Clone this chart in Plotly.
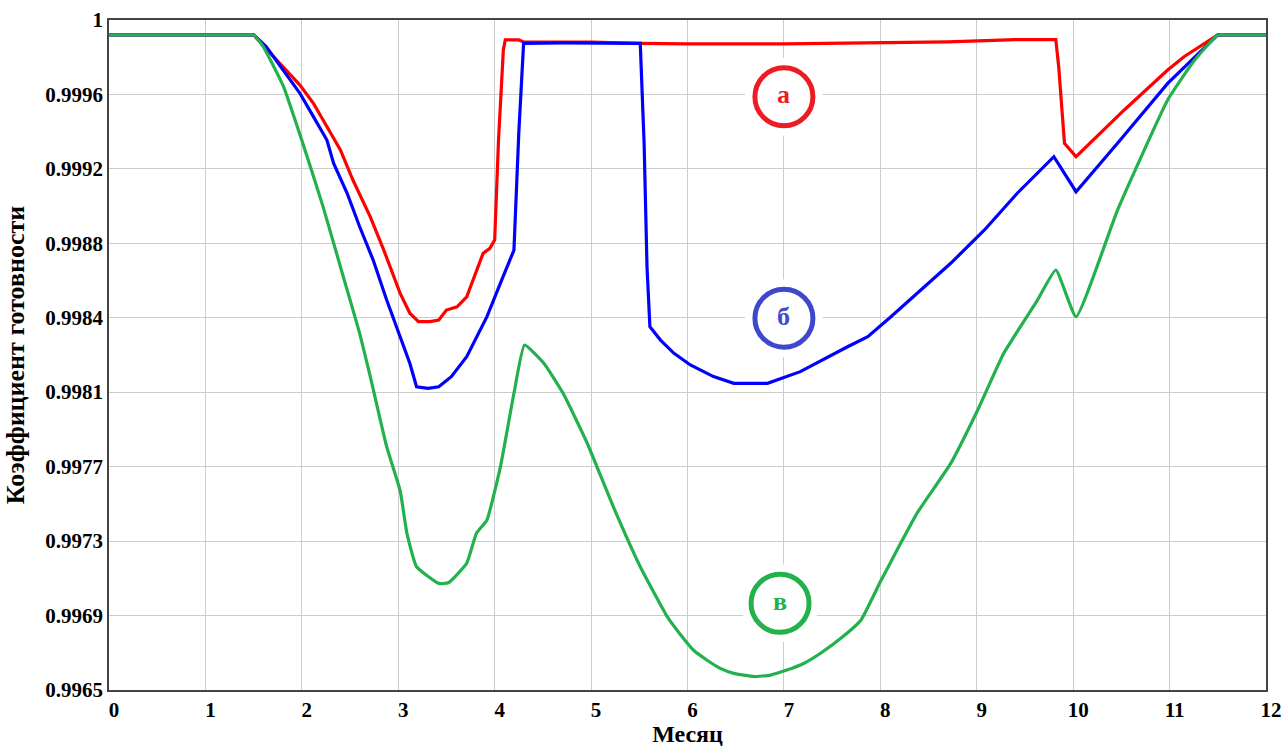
import plotly.graph_objects as go

# ---- data (month, availability coefficient) ----
red_x = [0, 1.5, 1.74, 1.98, 2.12, 2.26, 2.40, 2.53, 2.71, 2.85, 3.02, 3.12, 3.21, 3.33, 3.42, 3.50, 3.61, 3.71,
         3.80, 3.88, 3.95, 4.0, 4.04, 4.09, 4.11, 4.25, 4.30, 5.0, 5.5, 6.0, 7.0, 7.7, 8.7, 9.4, 9.82, 9.85, 9.91,
         10.03, 10.53, 10.98, 11.15, 11.5, 12]
red_y = [0.999922, 0.999922, 0.999791, 0.999660, 0.999565, 0.999443, 0.999321, 0.999164, 0.998972, 0.998798,
         0.998572, 0.998468, 0.998424, 0.998424, 0.998433, 0.998485, 0.998502, 0.998554, 0.998677, 0.998781,
         0.998807, 0.998851, 0.999373, 0.999843, 0.999896, 0.999896, 0.999885, 0.999885, 0.999878, 0.999875,
         0.999875, 0.999878, 0.999886, 0.999898, 0.999898, 0.999756, 0.999356, 0.999286, 0.999530, 0.999739,
         0.999808, 0.999922, 0.999922]

blue_x = [0, 1.5, 1.63, 1.81, 1.98, 2.12, 2.26, 2.33, 2.47, 2.60, 2.74, 2.88, 3.02, 3.12, 3.19, 3.31, 3.42, 3.55,
          3.71, 3.82, 3.92, 4.06, 4.20, 4.25, 4.30, 4.70, 5.51, 5.55, 5.58, 5.61, 5.72, 5.86, 6.03, 6.27, 6.48,
          6.83, 7.17, 7.66, 7.87, 8.11, 8.73, 9.08, 9.42, 9.80, 10.03, 10.46, 10.98, 11.5, 12]
blue_y = [0.999922, 0.999922, 0.999861, 0.999739, 0.999617, 0.999495, 0.999373, 0.999251, 0.999095, 0.998920,
          0.998746, 0.998537, 0.998346, 0.998207, 0.998084, 0.998076, 0.998084, 0.998137, 0.998241, 0.998346,
          0.998450, 0.998625, 0.998798, 0.999408, 0.999878, 0.999881, 0.999878, 0.999356, 0.998711, 0.998398,
          0.998328, 0.998259, 0.998198, 0.998137, 0.998102, 0.998102, 0.998163, 0.998293, 0.998346, 0.998450,
          0.998729, 0.998903, 0.999095, 0.999286, 0.999103, 0.999356, 0.999669, 0.999922, 0.999922]

green_x = [0, 1.0, 1.4, 1.5, 1.60, 1.81, 2.01, 2.22, 2.43, 2.60, 2.71, 2.88, 3.02, 3.09, 3.19, 3.42, 3.52, 3.71,
           3.81, 3.92, 4.06, 4.20, 4.31, 4.51, 4.71, 4.96, 5.23, 5.51, 5.79, 5.93, 6.06, 6.20, 6.34, 6.48, 6.69,
           6.86, 7.03, 7.21, 7.38, 7.59, 7.80, 8.0, 8.21, 8.38, 8.73, 9.01, 9.28, 9.63, 9.82, 10.03, 10.46,
           10.98, 11.26, 11.5, 11.6, 12]
green_y = [0.999922, 0.999922, 0.999922, 0.999922, 0.999861, 0.999652, 0.999356, 0.999025, 0.998659, 0.998363,
           0.998137, 0.997771, 0.997540, 0.997318, 0.997144, 0.997057, 0.997060, 0.997162, 0.997318, 0.997388,
           0.997667, 0.998050, 0.998302, 0.998207, 0.998050, 0.997789, 0.997458, 0.997144, 0.996883, 0.996787,
           0.996709, 0.996657, 0.996613, 0.996587, 0.996570, 0.996578, 0.996604, 0.996640, 0.996692, 0.996770,
           0.996866, 0.997065, 0.997266, 0.997423, 0.997684, 0.997963, 0.998259, 0.998537, 0.998694, 0.998450,
           0.999007, 0.999582, 0.999791, 0.999922, 0.999922, 0.999922]

x_ticks = list(range(0, 13))
y_tickvals = [0.9965, 0.996889, 0.997278, 0.997667, 0.998056, 0.998444, 0.998833, 0.999222, 0.999611, 1.0]
y_ticktext = ["0.9965", "0.9969", "0.9973", "0.9977", "0.9981", "0.9984", "0.9988", "0.9992", "0.9996", "1"]

label_text = ["а", "б", "в"]
label_x = [7.0, 7.0, 6.96]
label_y = [0.999599, 0.998442, 0.996953]
label_colors = ["#ed1c24", "#3f48cc", "#22b14c"]

FONT = "Liberation Serif"

fig = go.Figure()
series = [(red_x, red_y, "#ff0000", "linear"), (blue_x, blue_y, "#0000ff", "linear"),
          (green_x, green_y, "#22b14c", "spline")]
for xs, ys, col, shp in series:
    line = dict(color=col, width=3.2, shape=shp)
    if shp == "spline":
        line["smoothing"] = 0.4
    fig.add_trace(go.Scatter(x=xs, y=ys, mode="lines", line=line, showlegend=False, hoverinfo="skip"))

shapes = []
for t, lx, ly, c in zip(label_text, label_x, label_y, label_colors):
    shapes.append(dict(type="circle", xref="x", yref="y", xsizemode="pixel", ysizemode="pixel",
                       xanchor=lx, yanchor=ly, x0=-39, x1=39, y0=-39, y1=39,
                       fillcolor="white", line=dict(width=0), layer="between"))
    shapes.append(dict(type="circle", xref="x", yref="y", xsizemode="pixel", ysizemode="pixel",
                       xanchor=lx, yanchor=ly, x0=-29, x1=29, y0=-29, y1=29,
                       line=dict(color=c, width=5), layer="between"))
    fig.add_annotation(x=lx, y=ly, text=t, showarrow=False,
                       font=dict(family=FONT, size=26, color=c, weight="bold"), yshift=2)

fig.update_layout(
    width=1283, height=747,
    margin=dict(l=109, r=17, t=20, b=57),
    paper_bgcolor="white", plot_bgcolor="white",
    shapes=shapes,
    font=dict(family=FONT, color="black"),
)
fig.update_xaxes(range=[0, 12], tickvals=x_ticks, ticktext=[str(v) for v in x_ticks],
                 tickfont=dict(family=FONT, size=21, weight="bold", color="black"),
                 showgrid=True, gridcolor="#cccccc", gridwidth=1.2,
                 showline=True, linecolor="#444444", linewidth=1.5, mirror=True,
                 zeroline=False, ticks="", ticklabelshift=5, automargin=False,
                 title=dict(text="Месяц", font=dict(family=FONT, size=24, weight="bold", color="black"),
                            standoff=1))
fig.update_yaxes(range=[0.9965, 1.0], tickvals=y_tickvals, ticktext=y_ticktext,
                 tickfont=dict(family=FONT, size=21, weight="bold", color="black"),
                 showgrid=True, gridcolor="#cccccc", gridwidth=1.2,
                 showline=True, linecolor="#444444", linewidth=1.5, mirror=True,
                 zeroline=False, ticks="", automargin=False,
                 title=dict(text="Коэффициент готовности",
                            font=dict(family=FONT, size=26, weight="bold", color="black"), standoff=13))

fig.write_html("out.html", config={"displayModeBar": False},
               post_script="document.body.style.margin='0';")
